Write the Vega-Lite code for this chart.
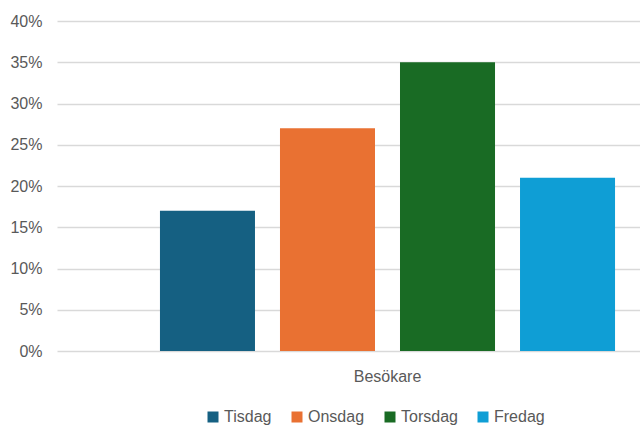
{
  "$schema": "https://vega.github.io/schema/vega-lite/v6.json",
  "autosize": "none",
  "width": 661,
  "height": 330,
  "padding": {"left": 57, "top": 21, "right": 0, "bottom": 74},
  "background": "white",
  "config": {
    "view": {"stroke": null},
    "font": "Liberation Sans",
    "axis": {"labelFont": "Liberation Sans", "labelColor": "#595959", "labelFontSize": 16}
  },
  "data": {
    "values": [
      {"kategori": "Besökare", "dag": "Tisdag", "andel": 0.17},
      {"kategori": "Besökare", "dag": "Onsdag", "andel": 0.27},
      {"kategori": "Besökare", "dag": "Torsdag", "andel": 0.35},
      {"kategori": "Besökare", "dag": "Fredag", "andel": 0.21}
    ]
  },
  "mark": {"type": "bar"},
  "encoding": {
    "x": {
      "field": "kategori",
      "type": "nominal",
      "scale": {"paddingInner": 0, "paddingOuter": 0.1885},
      "axis": {"title": null, "domain": false, "ticks": false, "labelAngle": 0, "labelPadding": 17}
    },
    "xOffset": {
      "field": "dag",
      "type": "nominal",
      "scale": {"domain": ["Tisdag", "Onsdag", "Torsdag", "Fredag"], "paddingInner": 0.2083, "paddingOuter": 0.104}
    },
    "y": {
      "field": "andel",
      "type": "quantitative",
      "scale": {"domain": [0, 0.4], "nice": false},
      "axis": {
        "title": null,
        "format": ".0%",
        "values": [0, 0.05, 0.1, 0.15, 0.2, 0.25, 0.3, 0.35, 0.4],
        "domain": false,
        "ticks": false,
        "labelPadding": 15,
        "gridColor": "#d9d9d9",
        "gridWidth": 1.3
      }
    },
    "color": {
      "field": "dag",
      "type": "nominal",
      "scale": {"domain": ["Tisdag", "Onsdag", "Torsdag", "Fredag"], "range": ["#156082", "#E97132", "#196B24", "#0F9ED5"]},
      "legend": {
        "title": null,
        "orient": "none",
        "direction": "horizontal",
        "legendX": 148,
        "legendY": 388,
        "symbolType": "square",
        "symbolSize": 121,
        "symbolStrokeWidth": 0,
        "labelFontSize": 16,
        "labelColor": "#595959",
        "labelFont": "Liberation Sans",
        "labelOffset": 3,
        "columnPadding": 17
      }
    }
  }
}
